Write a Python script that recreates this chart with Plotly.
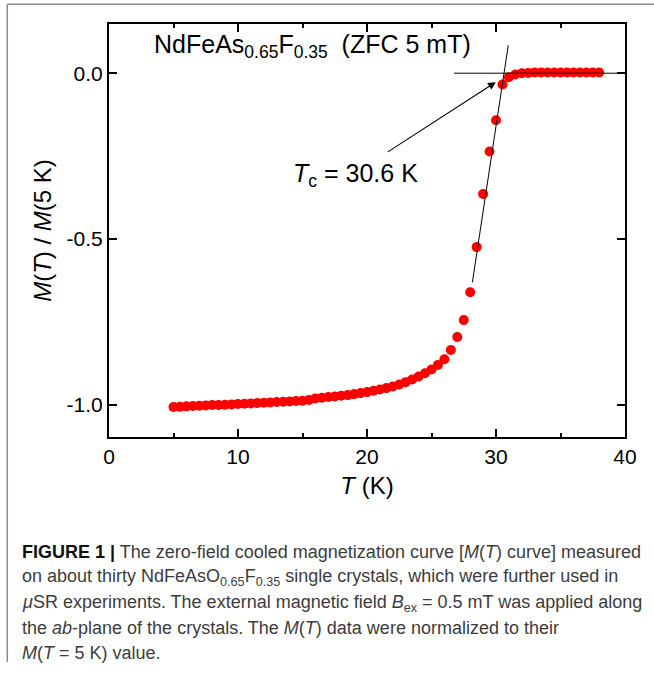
import plotly.graph_objects as go

# ---- data ----
T_K = [5.0, 5.5, 6.0, 6.5, 7.0, 7.5, 8.0, 8.5, 9.0, 9.5, 10.0, 10.5, 11.0, 11.5,
       12.0, 12.5, 13.0, 13.5, 14.0, 14.5, 15.0, 15.5, 16.0, 16.5, 17.0, 17.5,
       18.0, 18.5, 19.0, 19.5, 20.0, 20.5, 21.0, 21.5, 22.0, 22.5, 23.0, 23.5,
       24.0, 24.5, 25.0, 25.5, 26.0, 26.5, 27.0, 27.5, 28.0, 28.5, 29.0, 29.5,
       30.0, 30.5, 31.0, 31.5, 32.0, 32.5, 33.0, 33.5, 34.0, 34.5, 35.0, 35.5,
       36.0, 36.5, 37.0, 37.5, 38.0]
M_norm = [-1.006, -1.005, -1.004, -1.003, -1.002, -1.001, -1.000, -1.000, -0.999,
          -0.998, -0.997, -0.996, -0.995, -0.994, -0.993, -0.992, -0.991, -0.990,
          -0.989, -0.988, -0.987, -0.985, -0.980, -0.978, -0.976, -0.974, -0.972,
          -0.970, -0.967, -0.964, -0.961, -0.957, -0.953, -0.949, -0.944, -0.938,
          -0.931, -0.923, -0.914, -0.904, -0.893, -0.879, -0.862, -0.834, -0.795,
          -0.744, -0.660, -0.524, -0.364, -0.236, -0.142, -0.034, -0.012, -0.004,
          0.000, 0.001, 0.002, 0.002, 0.002, 0.002, 0.002, 0.002, 0.002, 0.002,
          0.002, 0.002, 0.002]

tangent_T = [28.17, 30.95]
tangent_M = [-0.63, 0.084]
baseline_T = [26.74, 40.0]
baseline_M = [0.0, 0.0]

x_ticks = [0, 10, 20, 30, 40]
y_ticks = [0.0, -0.5, -1.0]
y_ticklabels = ["0.0", "-0.5", "-1.0"]

inset_label = "NdFeAs<sub>0.65</sub>F<sub>0.35</sub>\u00a0\u00a0(ZFC 5 mT)"
tc_label = "<i>T</i><sub>c</sub> = 30.6 K"
caption_lines = [
    "<span style='color:#111'><b>FIGURE 1 |</b></span> The zero-field cooled magnetization curve [<i>M</i>(<i>T</i>) curve] measured",
    "on about thirty NdFeAsO<sub>0.65</sub>F<sub>0.35</sub> single crystals, which were further used in",
    "<i>μ</i>SR experiments. The external magnetic field <i>B</i><sub>ex</sub> = 0.5 mT was applied along",
    "the <i>ab</i>-plane of the crystals. The <i>M</i>(<i>T</i>) data were normalized to their",
    "<i>M</i>(<i>T</i> = 5 K) value.",
]

# ---- layout geometry ----
W, H = 654, 673
L, R, TOP, B = 109, 29, 24, 236
PW, PH = W - L - R, H - TOP - B


def xp(px):
    return (px - L) / PW


def yp(py):
    return (H - B - py) / PH


FONT = "Liberation Sans, Arial, sans-serif"

fig = go.Figure()
fig.add_trace(go.Scatter(x=T_K, y=M_norm, mode="markers",
                         marker=dict(color="#ff0000", size=10, line=dict(width=0)),
                         showlegend=False, hoverinfo="skip"))
fig.add_trace(go.Scatter(x=tangent_T, y=tangent_M, mode="lines",
                         line=dict(color="black", width=1), showlegend=False,
                         hoverinfo="skip"))
fig.add_trace(go.Scatter(x=baseline_T, y=baseline_M, mode="lines",
                         line=dict(color="black", width=1), showlegend=False,
                         hoverinfo="skip"))

annotations = [
    dict(text=inset_label, x=xp(152), y=yp(46), xref="paper", yref="paper",
         xanchor="left", yanchor="middle", showarrow=False,
         font=dict(family=FONT, size=25, color="black")),
    dict(text=tc_label, x=xp(291), y=yp(175), xref="paper", yref="paper",
         xanchor="left", yanchor="middle", showarrow=False,
         font=dict(family=FONT, size=25, color="black")),
    dict(text="", x=29.98, y=-0.027, ax=21.5, ay=-0.24, xref="x", yref="y",
         axref="x", ayref="y", showarrow=True, arrowhead=2, arrowsize=1.4,
         arrowwidth=1.1, arrowcolor="black", standoff=0),
]
cap_y = [552, 577, 603, 628, 653]
for line, cy in zip(caption_lines, cap_y):
    annotations.append(dict(text=line, x=xp(20), y=yp(cy), xref="paper", yref="paper",
                            xanchor="left", yanchor="middle", showarrow=False,
                            font=dict(family=FONT, size=18, color="#3c3c3c")))

shapes = [
    dict(type="line", xref="paper", yref="paper", x0=xp(7.3), x1=xp(660), y0=yp(4.3), y1=yp(4.3),
         line=dict(color="#8c8c8c", width=1.5)),
    dict(type="line", xref="paper", yref="paper", x0=xp(7.3), x1=xp(7.3), y0=yp(4.3), y1=yp(662),
         line=dict(color="#8c8c8c", width=1.5)),
]

fig.update_layout(
    width=W, height=H,
    margin=dict(l=L, r=R, t=TOP, b=B, pad=0),
    paper_bgcolor="white", plot_bgcolor="white",
    font=dict(family=FONT, color="black"),
    annotations=annotations, shapes=shapes,
    xaxis=dict(range=[0, 40], tickvals=x_ticks, ticks="inside", ticklen=8, tickwidth=2,
               tickcolor="black", showline=True, linecolor="black", linewidth=2,
               mirror="ticks", showgrid=False, zeroline=False,
               minor=dict(dtick=5, ticks="inside", ticklen=4, tickwidth=2, tickcolor="black"),
               tickfont=dict(size=21, family=FONT),
               title=dict(text="<i>T</i> (K)", font=dict(size=24, family=FONT), standoff=10)),
    yaxis=dict(range=[-1.0963, 0.1483], tickvals=y_ticks, ticktext=y_ticklabels,
               ticks="inside", ticklen=8, tickwidth=2, tickcolor="black",
               showline=True, linecolor="black", linewidth=2, mirror="ticks",
               showgrid=False, zeroline=False,
               tickfont=dict(size=21, family=FONT),
               title=dict(text="<i>M</i>(<i>T</i>) / <i>M</i>(5 K)", font=dict(size=24, family=FONT),
                          standoff=8)),
)

fig.write_html("out.html")
